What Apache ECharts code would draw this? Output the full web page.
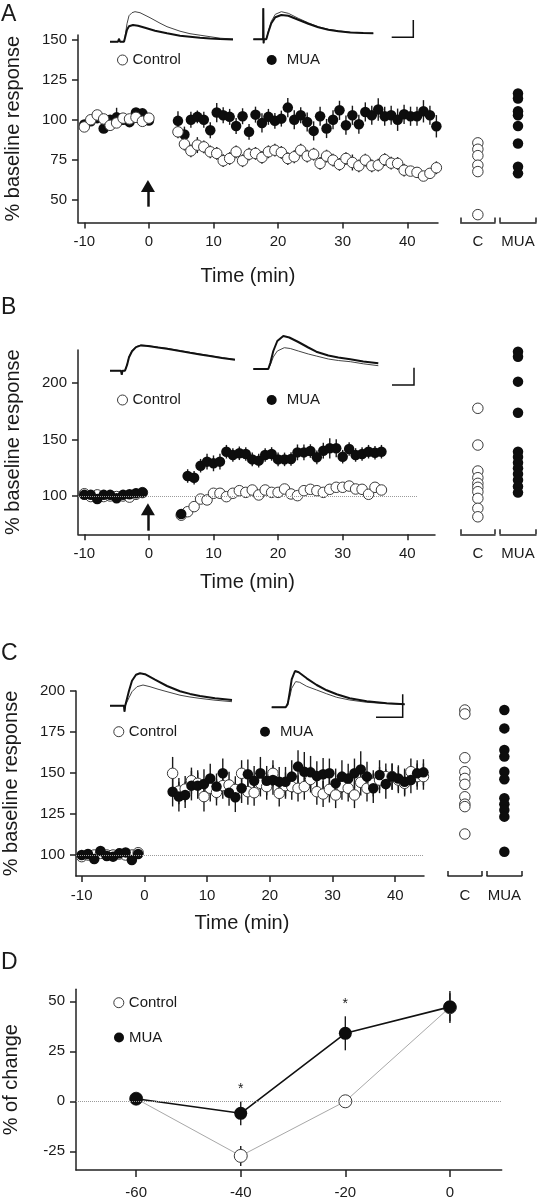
<!DOCTYPE html>
<html><head><meta charset="utf-8">
<script src="https://cdn.jsdelivr.net/npm/echarts@6/dist/echarts.min.js"></script>
<style>html,body{margin:0;padding:0;background:#fff}#chart{width:537px;height:1199px}</style>
</head><body><div id="chart"></div>
<script>
// ---------------- DATA ----------------
const timeTicks = [-10, 0, 10, 20, 30, 40];
const yTicksA = [50, 75, 100, 125, 150];
const yTicksB = [100, 150, 200];
const yTicksC = [100, 125, 150, 175, 200];
const xTicksD = [-60, -40, -20, 0];
const yTicksD = [-25, 0, 25, 50];

// Panel A
const A_baseT = [-10, -9, -8, -7, -6, -5, -4, -3, -2, -1, 0];
const A_ctrlBase = [95.5, 100, 103, 100.5, 96.5, 98, 101, 100.5, 101.5, 99, 101];
const A_ctrlBaseErr = [2, 2, 3, 2, 2, 2, 2, 2, 2, 2, 2];
const A_muaBase = [97, 99, 101, 94.5, 100, 101.5, 100, 98.5, 104.5, 104, 99.5];
const A_muaBaseErr = [2, 2, 2, 2, 2, 6, 2, 2, 2, 2, 2];
const A_postT = [4.5, 5.5, 6.5, 7.5, 8.5, 9.5, 10.5, 11.5, 12.5, 13.5, 14.5, 15.5, 16.5, 17.5, 18.5, 19.5, 20.5, 21.5, 22.5, 23.5, 24.5, 25.5, 26.5, 27.5, 28.5, 29.5, 30.5, 31.5, 32.5, 33.5, 34.5, 35.5, 36.5, 37.5, 38.5, 39.5, 40.5, 41.5, 42.5, 43.5, 44.5];
const A_muaPost = [99.3, 90.7, 100, 101.8, 100, 93.4, 104.5, 102.8, 101.8, 96.1, 102.2, 92.4, 103.2, 98, 101.8, 99.3, 100.7, 107.6, 100, 102.8, 98.6, 93, 102.2, 94.5, 100, 105.9, 96.6, 102.8, 97.2, 104.9, 102.8, 106.4, 102.2, 102.8, 100, 103.4, 102.2, 102.2, 105.3, 102.8, 95.9];
const A_muaPostErr = [6, 5, 5, 4, 5, 5, 6, 5, 5, 5, 5, 5, 5, 6, 5, 5, 5, 6, 6, 5, 6, 6, 6, 6, 6, 6, 6, 6, 6, 6, 6, 7, 6, 6, 7, 6, 6, 6, 7, 6, 7];
const A_ctrlPost = [92.4, 84.7, 80.5, 84.1, 83, 79.9, 78.9, 74.3, 75.7, 79.9, 74.3, 78.4, 78.9, 76.4, 79.9, 80.9, 79.5, 75.7, 76.8, 80.9, 77.2, 78.4, 72.6, 77.2, 74.7, 72, 75.7, 73.2, 71.1, 74.7, 71.1, 71.5, 75, 72.8, 72.6, 68.4, 67.8, 67, 64.7, 66.4, 69.9];
const A_ctrlPostErr = [4, 4, 4, 5, 4, 4, 4, 4, 4, 4, 4, 4, 4, 4, 4, 4, 4, 4, 4, 4, 4, 4, 4, 4, 4, 4, 4, 5, 4, 4, 4, 4, 4, 4, 4, 4, 3, 3, 3, 3, 4];
const A_sideCtrl = [85.5, 81.5, 77.5, 71.5, 67.5, 40.5];
const A_sideMua = [116.4, 113.3, 105.3, 102.8, 96.1, 85.1, 70.5, 66.4];

// Panel B
const B_baseT = [-10, -9, -8, -7, -6, -5, -4, -3, -2, -1];
const B_ctrlBase = [102, 99.5, 101, 99.5, 100, 99.5, 100, 99, 101.5, 103];
const B_muaBase = [101, 101, 97.3, 101, 101, 98, 101, 101.5, 102.4, 103.2];
const B_baseErr = [2, 2, 2, 2, 2, 2, 2, 2, 2, 2];
const B_postT = [5, 6, 7, 8, 9, 10, 11, 12, 13, 14, 15, 16, 17, 18, 19, 20, 21, 22, 23, 24, 25, 26, 27, 28, 29, 30, 31, 32, 33, 34, 35, 36];
const B_muaPost = [84.1, 117.7, 116.2, 126.8, 130.4, 128.9, 130.4, 139.2, 136.3, 137.8, 137.2, 132.4, 131.3, 136.3, 137.2, 132.4, 132.4, 132.7, 138.6, 138.6, 139.8, 134.2, 140.1, 142.2, 142.2, 134.8, 141.6, 136.3, 137.2, 139.2, 138.3, 139.2];
const B_muaPostErr = [4, 6, 6, 6, 7, 7, 7, 6, 6, 6, 6, 6, 6, 6, 6, 6, 6, 6, 7, 7, 6, 6, 7, 9, 8, 6, 6, 6, 6, 6, 6, 6];
const B_ctrlPost = [83, 86.1, 90.6, 97.3, 96.5, 102.4, 102.4, 99.4, 102.4, 104.7, 103.2, 105.3, 100.9, 105.3, 103.2, 103.2, 106.2, 101.8, 100.3, 104.7, 105.9, 104.7, 103.2, 105.9, 107.7, 107.7, 108.8, 106.2, 105.9, 101.5, 107.7, 105.3];
const B_ctrlPostErr = [3, 3, 3, 3, 3, 3, 3, 3, 3, 3, 3, 3, 3, 3, 3, 3, 3, 3, 3, 3, 3, 3, 3, 3, 3, 3, 3, 3, 3, 3, 3, 3];
const B_sideCtrl = [177.6, 145.1, 122.1, 116.2, 111.2, 107.7, 103.8, 97.9, 89.1, 81.6];
const B_sideMua = [227.7, 223.3, 201.2, 173.7, 139.2, 134.5, 129.5, 124.5, 119.5, 114.2, 108.5, 103];

// Panel C
const C_baseT = [-10, -9, -8, -7, -6, -5, -4, -3, -2, -1];
const C_ctrlBase = [99, 100, 100, 101, 100, 100, 100.6, 100, 100, 101.4];
const C_muaBase = [100, 100.6, 97.6, 102.4, 99.4, 99, 101, 101.6, 97, 100.6];
const C_baseErr = [2, 2, 2, 2, 2, 2, 2, 2, 2, 2];
const C_postT = [4.5, 5.5, 6.5, 7.5, 8.5, 9.5, 10.5, 11.5, 12.5, 13.5, 14.5, 15.5, 16.5, 17.5, 18.5, 19.5, 20.5, 21.5, 22.5, 23.5, 24.5, 25.5, 26.5, 27.5, 28.5, 29.5, 30.5, 31.5, 32.5, 33.5, 34.5, 35.5, 36.5, 37.5, 38.5, 39.5, 40.5, 41.5, 42.5, 43.5, 44.5];
const C_muaPost = [138.6, 135.6, 136.6, 142.3, 142.3, 143.3, 146.7, 141.7, 149.8, 138, 135.2, 140.7, 149.2, 145.3, 149.8, 145.3, 145.7, 144.7, 144.7, 147.8, 153.9, 150.8, 150.4, 148.2, 149.2, 149.8, 143.7, 147.8, 146.7, 149.8, 152.2, 147.8, 140.7, 148.8, 143.3, 147.8, 146.7, 144.7, 145.7, 149.8, 150.4];
const C_muaPostErr = [9, 9, 8, 9, 8, 9, 9, 8, 9, 8, 9, 9, 9, 9, 10, 9, 9, 9, 9, 10, 10, 12, 10, 9, 10, 9, 9, 10, 9, 9, 11, 9, 9, 9, 9, 8, 8, 8, 8, 8, 8];
const C_ctrlPost = [149.8, 139, 140.2, 145.3, 143.7, 135.6, 140.7, 138.2, 142.3, 142.7, 140, 149.8, 138.6, 138, 143.7, 141.7, 149.8, 137.6, 142.3, 141.7, 140.7, 141.7, 146.1, 138.6, 137.2, 140, 136.6, 141.7, 140.7, 136.6, 144.3, 140.7, 143.7, 145.7, 147.8, 147.8, 145.7, 143.7, 150.8, 147.8, 147.8];
const C_ctrlPostErr = [10, 8, 8, 8, 8, 9, 8, 8, 8, 8, 8, 8, 8, 8, 8, 8, 8, 8, 8, 8, 8, 8, 8, 8, 8, 8, 8, 8, 8, 8, 8, 8, 8, 8, 8, 8, 8, 8, 8, 8, 8];
const C_sideCtrl = [188.4, 186, 159.3, 150.8, 146.7, 143.1, 135.5, 131, 129.5, 112.8];
const C_sideMua = [188.4, 177.2, 164, 160, 150.8, 146.2, 134.6, 131, 127.4, 123.4, 102];

// Panel D
const D_t = [-60, -40, -20, 0];
const D_ctrl = [1.3, -27.3, 0, 47];
const D_ctrlErr = [1, 5, 1, 7];
const D_mua = [1.3, -6, 34, 47.2];
const D_muaErr = [1.5, 6, 8.5, 8];
const D_sig = [[-40, 6], [-20, 48.5]];

// Inset traces: [time (ms), amplitude (a.u.)]
const trA1pre = [[0,0],[8,0],[9,3],[10,0],[14,0],[15,5],[17,18],[19,26],[22,29],[25,30],[30,29],[40,24],[50,18.5],[57,15],[70,10.5],[80,8],[90,6.5],[100,5],[110,3.5],[123,2.7]];
const trA1post = [[0,0],[8,0],[9,3],[10,0],[14,0],[15,4],[17,12],[19,15.5],[23,16.7],[28,16],[35,14],[45,11],[57,8.4],[70,6],[80,5],[90,4],[100,3.2],[110,2.7],[123,2.3]];
const trA2pre = [[0,0],[9.8,0],[10,31],[10.3,-4],[10.6,0],[13,0],[15,8],[18,18],[22,25],[28,27.6],[35,26],[45,21],[55,16.5],[65,12.5],[75,10],[85,8.5],[97,7],[110,6.3],[120,6]];
const trA2post = [[0,0],[9.8,0],[10,31],[10.3,-4],[10.6,0],[13,0],[15,7],[18,16],[22,22],[28,24.3],[35,23.5],[45,19.5],[55,15.5],[65,12],[75,9.5],[85,8],[97,6.8],[110,6.2],[120,6]];
const trB1pre = [[0,0],[11,0],[11.7,-4],[12.5,0],[15,0],[17,6],[19,14],[22,20],[26,24],[31,25.7],[38,25],[48,23.5],[57,22.4],[70,20],[80,18.3],[90,16.7],[100,15],[112,13],[125,11.3]];
const trB1post = [[0,0],[11,0],[11.7,-4],[12.5,0],[15,0],[17,5.5],[19,13.5],[22,19.5],[26,23.6],[31,25.3],[38,24.6],[48,23.1],[57,22],[70,19.6],[80,17.9],[90,16.3],[100,14.6],[112,12.6],[125,11]];
const trB2pre = [[0,0],[12,0],[12.7,-2],[13.5,0],[15,0],[17,4],[20,12],[24,18],[31,21.3],[37,20.5],[45,18],[55,15],[63,13],[75,10],[85,8.5],[97,7.3],[110,5.2],[125,3.3]];
const trB2post = [[0,0],[12,0],[12.7,-2],[13.5,0],[15,0],[17,6],[20,18],[24,28],[30,33],[36,31.5],[45,27],[55,21.5],[63,17.3],[75,13.5],[85,11.5],[97,9.7],[110,7.5],[125,5.7]];
const trC1pre = [[0,0],[14,0],[14.5,-6],[15.2,0],[16,1],[19,8],[22,14],[27,19],[33,20.7],[40,19],[48,16.5],[57,14],[70,10.5],[80,8.7],[90,7.3],[105,5.5],[122,4]];
const trC1post = [[0,0],[14,0],[14.5,-6],[15.2,0],[16,2],[19,15],[22,25],[26,31],[30,32.4],[35,31.5],[45,26],[57,19.7],[70,14.5],[80,11.8],[90,9.7],[105,7.5],[122,5.7]];
const trC2pre = [[0,0],[14,0],[15,0],[16,2],[18,10],[20,19],[24,25.7],[28,25],[35,21],[45,17.3],[55,13.5],[65,10],[78,7.3],[95,5],[115,3.7],[133,3]];
const trC2post = [[0,0],[14,0],[14.5,-2],[15,0],[16,3],[18,15],[20,28],[23.3,36.3],[27,35],[35,29],[45,22.3],[55,17],[65,13],[78,9],[95,6],[115,4],[133,3]];

// ---------------- CHART ----------------
const FONT = 'Liberation Sans, Arial, Helvetica, sans-serif';
const INK = '#1a1a1a';
const pts = (ts, vs, es) => ts.map((t, i) => [t, vs[i], es ? es[i] : 0]);

const grids = [], xAxes = [], yAxes = [], series = [];

function addGrid(g) { grids.push(Object.assign({ outerBoundsMode: 'none', containLabel: false }, g)); return grids.length - 1; }

function mainPanel(g, xr, yr, yTicks, nameGapX, namePad) {
  const gi = addGrid(g);
  xAxes.push({
    type: 'value', gridIndex: gi, min: xr[0], max: xr[1],
    axisLine: { show: true, onZero: false, lineStyle: { color: '#222', width: 1.5 } },
    axisTick: { show: true, length: 6, customValues: timeTicks, lineStyle: { color: '#222', width: 1.5 } },
    axisLabel: { customValues: timeTicks, fontSize: 15, color: INK, fontFamily: FONT, margin: 12 },
    splitLine: { show: false },
    name: 'Time (min)', nameLocation: 'middle', nameGap: nameGapX,
    nameTextStyle: { fontSize: 20, color: INK, fontFamily: FONT, padding: [0, namePad, 0, 0] }
  });
  yAxes.push({
    type: 'value', gridIndex: gi, min: yr[0], max: yr[1],
    axisLine: { show: true, onZero: false, lineStyle: { color: '#222', width: 1.5 } },
    axisTick: { show: true, length: 6, customValues: yTicks, lineStyle: { color: '#222', width: 1.5 } },
    axisLabel: { customValues: yTicks, fontSize: 15, color: INK, fontFamily: FONT, margin: 11 },
    splitLine: { show: false },
    name: '% baseline response', nameLocation: 'middle', nameGap: 55, nameRotate: 90,
    nameTextStyle: { fontSize: 20, color: INK, fontFamily: FONT }
  });
  return gi;
}

function sidePanel(g, label, yr) {
  const gi = addGrid(g);
  xAxes.push({
    type: 'category', gridIndex: gi, data: [label], boundaryGap: true,
    axisLine: { show: true, lineStyle: { color: '#222', width: 1.5 } },
    axisTick: { show: true, inside: true, length: 5, alignWithLabel: false, interval: 0, lineStyle: { color: '#222', width: 1.5 } },
    axisLabel: { fontSize: 15, color: INK, fontFamily: FONT, margin: 12 },
    splitLine: { show: false }
  });
  yAxes.push({ type: 'value', gridIndex: gi, min: yr[0], max: yr[1], show: false, splitLine: { show: false } });
  return gi;
}

function errBars(gi, data, z) {
  series.push({
    type: 'custom', xAxisIndex: gi, yAxisIndex: gi, z: z, silent: true, clip: false,
    data: data, encode: { x: 0, y: 1 },
    renderItem: function (params, api) {
      const x = api.value(0), y = api.value(1), e = api.value(2);
      const p1 = api.coord([x, y + e]), p2 = api.coord([x, y - e]);
      return { type: 'line', shape: { x1: p1[0], y1: p1[1], x2: p2[0], y2: p2[1] }, style: { stroke: '#1a1a1a', lineWidth: 1.4 } };
    }
  });
}

const openStyle = { color: '#fff', borderColor: '#3a3a3a', borderWidth: 1, opacity: 1 };
const fillStyle = { color: '#0d0d0d', opacity: 1 };

function scatter(gi, name, data, open, z, extra) {
  series.push(Object.assign({
    type: 'scatter', name: name, xAxisIndex: gi, yAxisIndex: gi, z: z, clip: false,
    symbol: 'circle', symbolSize: 10.5, itemStyle: open ? openStyle : fillStyle,
    data: data, animation: false
  }, extra || {}));
}

function refLine(x0, x1, y) {
  return {
    silent: true, symbol: ['none', 'none'], label: { show: false },
    lineStyle: { color: '#9a9a9a', type: 'dotted', width: 1 },
    data: [[{ coord: [x0, y] }, { coord: [x1, y] }]]
  };
}
function arrow(x, y0, y1) {
  return {
    silent: true, symbol: ['none', 'triangle'], symbolSize: [14, 12], label: { show: false },
    lineStyle: { color: '#111', type: 'solid', width: 2.5 }, itemStyle: { color: '#111' },
    data: [[{ coord: [x, y0] }, { coord: [x, y1] }]]
  };
}

// ---- Panel A ----
const yrA = [35.58, 153.13];
const gA = mainPanel({ left: 78, top: 35, width: 360, height: 187.5 }, [-10.975, 44.75], yrA, yTicksA, 44, 20);
errBars(gA, pts(A_baseT, A_ctrlBase, A_ctrlBaseErr).concat(pts(A_postT, A_ctrlPost, A_ctrlPostErr)), 2);
errBars(gA, pts(A_baseT, A_muaBase, A_muaBaseErr).concat(pts(A_postT, A_muaPost, A_muaPostErr)), 2);
scatter(gA, 'MUA', pts(A_baseT, A_muaBase).concat(pts(A_postT, A_muaPost)).map(d => [d[0], d[1]]), false, 3,
  { markLine: arrow(-0.15, 45.5, 58.5) });
scatter(gA, 'Control', pts(A_baseT, A_ctrlBase).concat(pts(A_postT, A_ctrlPost)).map(d => [d[0], d[1]]), true, 4,
  { markLine: refLine(-10.975, 46.1, 100) });
const gAc = sidePanel({ left: 460.7, top: 35, width: 34.3, height: 187.5 }, 'C', yrA);
scatter(gAc, 'Control', A_sideCtrl.map(v => ['C', v]), true, 4);
const gAm = sidePanel({ left: 500, top: 35, width: 36, height: 187.5 }, 'MUA', yrA);
scatter(gAm, 'MUA', A_sideMua.map(v => ['MUA', v]), false, 4);

// ---- Panel B ----
const yrB = [66.1, 229.2];
const gB = mainPanel({ left: 78, top: 350, width: 357, height: 184.3 }, [-10.975, 44.29], yrB, yTicksB, 38, 18);
errBars(gB, pts(B_baseT, B_ctrlBase, B_baseErr).concat(pts(B_postT, B_ctrlPost, B_ctrlPostErr)), 2);
errBars(gB, pts(B_baseT, B_muaBase, B_baseErr).concat(pts(B_postT, B_muaPost, B_muaPostErr)), 2);
scatter(gB, 'Control', pts(B_baseT, B_ctrlBase).concat(pts(B_postT, B_ctrlPost)).map(d => [d[0], d[1]]), true, 3,
  { markLine: refLine(-10.975, 41.5, 100) });
scatter(gB, 'MUA', pts(B_baseT, B_muaBase).concat(pts(B_postT, B_muaPost)).map(d => [d[0], d[1]]), false, 4,
  { markLine: arrow(-0.15, 69.3, 88.2) });
const gBc = sidePanel({ left: 460.7, top: 350, width: 34.3, height: 184.3 }, 'C', yrB);
scatter(gBc, 'Control', B_sideCtrl.map(v => ['C', v]), true, 4);
const gBm = sidePanel({ left: 500, top: 350, width: 36, height: 184.3 }, 'MUA', yrB);
scatter(gBm, 'MUA', B_sideMua.map(v => ['MUA', v]), false, 4);

// ---- Panel C ----
const yrC = [87.2, 200];
const gC = mainPanel({ left: 76, top: 691, width: 348, height: 185 }, [-10.91, 44.59], yrC, yTicksC, 37, 16);
errBars(gC, pts(C_baseT, C_ctrlBase, C_baseErr).concat(pts(C_postT, C_ctrlPost, C_ctrlPostErr)), 2);
errBars(gC, pts(C_baseT, C_muaBase, C_baseErr).concat(pts(C_postT, C_muaPost, C_muaPostErr)), 2);
scatter(gC, 'Control', pts(C_baseT, C_ctrlBase).concat(pts(C_postT, C_ctrlPost)).map(d => [d[0], d[1]]), true, 3,
  { markLine: refLine(-10.91, 44.59, 100) });
scatter(gC, 'MUA', pts(C_baseT, C_muaBase).concat(pts(C_postT, C_muaPost)).map(d => [d[0], d[1]]), false, 4);
const gCc = sidePanel({ left: 448, top: 691, width: 33.7, height: 185 }, 'C', yrC);
scatter(gCc, 'Control', C_sideCtrl.map(v => ['C', v]), true, 4);
const gCm = sidePanel({ left: 487, top: 691, width: 34.7, height: 185 }, 'MUA', yrC);
scatter(gCm, 'MUA', C_sideMua.map(v => ['MUA', v]), false, 4);

// ---- Panel D ----
const gD = addGrid({ left: 76, top: 989.3, width: 425.7, height: 180.7 });
xAxes.push({
  type: 'value', gridIndex: gD, min: -71.5, max: 9.9,
  axisLine: { show: true, onZero: false, lineStyle: { color: '#222', width: 1.5 } },
  axisTick: { show: true, length: 7, customValues: xTicksD, lineStyle: { color: '#222', width: 1.5 } },
  axisLabel: { customValues: xTicksD, fontSize: 15, color: INK, fontFamily: FONT, margin: 15 },
  splitLine: { show: false }
});
yAxes.push({
  type: 'value', gridIndex: gD, min: -34.35, max: 56,
  axisLine: { show: true, onZero: false, lineStyle: { color: '#222', width: 1.5 } },
  axisTick: { show: true, length: 6, customValues: yTicksD, lineStyle: { color: '#222', width: 1.5 } },
  axisLabel: { customValues: yTicksD, fontSize: 15, color: INK, fontFamily: FONT, margin: 11 },
  splitLine: { show: false },
  name: '% of change', nameLocation: 'middle', nameGap: 55, nameRotate: 90,
  nameTextStyle: { fontSize: 20, color: INK, fontFamily: FONT }
});
errBars(gD, pts(D_t, D_ctrl, D_ctrlErr), 2);
errBars(gD, pts(D_t, D_mua, D_muaErr), 2);
series.push({
  type: 'line', name: 'Control', xAxisIndex: gD, yAxisIndex: gD, z: 3, animation: false,
  data: D_t.map((t, i) => [t, D_ctrl[i]]), symbol: 'circle', symbolSize: 13,
  itemStyle: openStyle, lineStyle: { color: '#a8a8a8', width: 1 },
  markLine: refLine(-71.5, 9.9, 0)
});
series.push({
  type: 'line', name: 'MUA', xAxisIndex: gD, yAxisIndex: gD, z: 4, animation: false,
  data: D_t.map((t, i) => [t, D_mua[i]]), symbol: 'circle', symbolSize: 13,
  itemStyle: fillStyle, lineStyle: { color: '#111', width: 1.6 },
  markPoint: {
    silent: true, symbol: 'circle', symbolSize: 1, itemStyle: { color: 'rgba(0,0,0,0)' },
    label: { show: true, formatter: '*', position: 'inside', fontSize: 14, color: INK, fontFamily: FONT },
    data: D_sig.map(c => ({ coord: c }))
  }
});

// ---- Inset traces ----
function traceGrid(left, baseline, width, up, down) {
  const gi = addGrid({ left: left, top: baseline - up, width: width, height: up + down });
  xAxes.push({ type: 'value', gridIndex: gi, min: 0, max: width, show: false, splitLine: { show: false } });
  yAxes.push({ type: 'value', gridIndex: gi, min: -down, max: up, show: false, splitLine: { show: false } });
  return gi;
}
function trace(gi, data, thick) {
  series.push({
    type: 'line', xAxisIndex: gi, yAxisIndex: gi, data: data, symbol: 'none', silent: true, animation: false,
    z: thick ? 3 : 2, clip: false,
    lineStyle: thick ? { color: '#111', width: 2 } : { color: '#444', width: 1 }
  });
}
const tA1 = traceGrid(110, 41.7, 123, 38, 6); trace(tA1, trA1pre, false); trace(tA1, trA1post, true);
const tA2 = traceGrid(253.3, 39.3, 120, 38, 6); trace(tA2, trA2pre, false); trace(tA2, trA2post, true);
const tB1 = traceGrid(110, 370.7, 125, 38, 6); trace(tB1, trB1pre, false); trace(tB1, trB1post, true);
const tB2 = traceGrid(253.3, 369, 125, 38, 6); trace(tB2, trB2pre, false); trace(tB2, trB2post, true);
const tC1 = traceGrid(110, 705.7, 122, 38, 6); trace(tC1, trC1pre, false); trace(tC1, trC1post, true);
const tC2 = traceGrid(271.7, 707.3, 133.3, 38, 6); trace(tC2, trC2pre, false); trace(tC2, trC2post, true);

// ---- Legends ----
const legCommon = {
  orient: 'horizontal', padding: 0, itemHeight: 10, selectedMode: false,
  textStyle: { fontSize: 15, color: INK, fontFamily: FONT, lineHeight: 16 }
};
const ctrlItem = { name: 'Control', icon: 'circle', itemStyle: { color: '#fff', borderColor: '#3a3a3a', borderWidth: 1, opacity: 1 } };
const muaItem = { name: 'MUA', icon: 'circle', itemStyle: { color: '#0d0d0d', borderWidth: 0, opacity: 1 } };
const legends = [
  [117, 52, ctrlItem, 10], [266.7, 52, muaItem, 20],
  [117, 392, ctrlItem, 10], [266.7, 392, muaItem, 20],
  [113.3, 723.7, ctrlItem, 10], [260, 723.7, muaItem, 20],
  [113.3, 994.7, ctrlItem, 10], [114, 1029.5, muaItem, 10]
].map(l => Object.assign({}, legCommon, { left: l[0], top: l[1], itemWidth: l[3], data: [l[2]] }));

// ---- Graphic: panel letters and scale bars ----
const letter = (t, x, y) => ({ type: 'text', left: x, top: y, style: { text: t, fontSize: 23, fill: INK, fontFamily: FONT } });
const bar = (p) => ({ type: 'polyline', shape: { points: p }, style: { stroke: '#111', lineWidth: 1.5, fill: null } });
const graphic = [
  letter('A', 1, 3), letter('B', 1, 296), letter('C', 1, 642), letter('D', 1, 951),
  bar([[391.7, 37.3], [413.3, 37.3], [413.3, 20]]),
  bar([[392, 385], [414, 385], [414, 367.7]]),
  bar([[376, 717.3], [402.7, 717.3], [402.7, 694.3]])
];

const chart = echarts.init(document.getElementById('chart'), null, { renderer: 'canvas' });
chart.setOption({
  animation: false,
  backgroundColor: '#fff',
  textStyle: { fontFamily: FONT },
  grid: grids, xAxis: xAxes, yAxis: yAxes, series: series, legend: legends, graphic: graphic
});
</script></body></html>
